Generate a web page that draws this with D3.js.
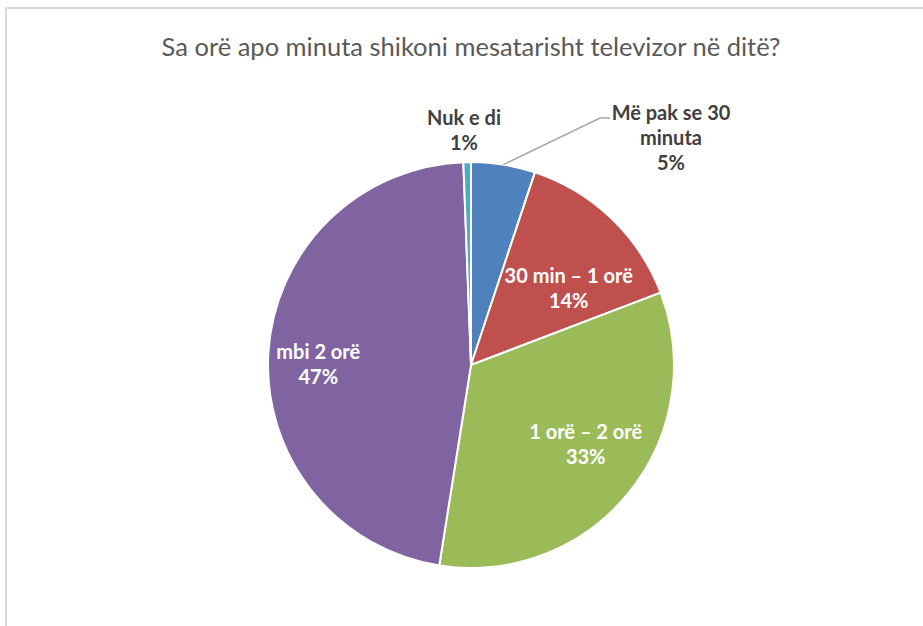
<!DOCTYPE html>
<html lang="sq">
    <head>
        <meta charset="utf-8">
        <title>Sa orë apo minuta shikoni mesatarisht televizor në ditë?</title>
        <script type="text/javascript" src="https://d3js.org/d3.v7.min.js"></script>
        <style type="text/css">
            body {
                margin: 0;
                background: #ffffff;
            }
            .title {
                font-family: Lato, "Open Sans", sans-serif;
                font-size: 25.5px;
                fill: #595959;
            }
            .label {
                font-family: Lato, "Open Sans", sans-serif;
                font-size: 20px;
                font-weight: bold;
            }
        </style>
    </head>

    <body>
        <script type="text/javascript">

            // chart size
            const svgW = 923;
            const svgH = 626;

            // data (percent of answers)
            const categories = ["Më pak se 30 minuta", "30 min – 1 orë", "1 orë – 2 orë", "mbi 2 orë", "Nuk e di"];
            const values = [5.1, 14.1, 33.3, 46.9, 0.6];
            const colors = ["#4F81BD", "#C0504D", "#9BBB59", "#8064A2", "#4BACC6"];
            // label lines, the percent is added as the last line
            const labelLines = [["Më pak se 30", "minuta"], ["30 min – 1 orë"], ["1 orë – 2 orë"], ["mbi 2 orë"], ["Nuk e di"]];

            const titleText = "Sa orë apo minuta shikoni mesatarisht televizor në ditë?";

            const dataset = categories.map((c, i) => ({ name: c, value: values[i], color: colors[i], lines: labelLines[i] }));

            // pie geometry
            const cx = 471;
            const cy = 365;
            const radius = 203;
            const lineH = 25;

            // where each label sits (outside labels are placed from the centre)
            const labelLayout = {
                "Më pak se 30 minuta": { outside: true, x: 200, y: -227 },
                "30 min – 1 orë": { outside: false, r: 124, dx: 12, dy: 13 },
                "1 orë – 2 orë": { outside: false, r: 140, dx: 6, dy: -9 },
                "mbi 2 orë": { outside: false, r: 153, dx: 0, dy: 9 },
                "Nuk e di": { outside: true, x: -7, y: -235 }
            };

            const svg = d3.select("body")
                .append("svg")
                .attr("width", svgW)
                .attr("height", svgH);

            // chart frame (runs off the right and bottom edges)
            svg.append("rect")
                .attr("x", 6)
                .attr("y", 8)
                .attr("width", svgW + 10)
                .attr("height", svgH + 10)
                .attr("fill", "none")
                .attr("stroke", "#D9D9D9")
                .attr("stroke-width", 2);

            // title
            svg.append("text")
                .attr("class", "title")
                .attr("x", cx)
                .attr("y", 56)
                .attr("text-anchor", "middle")
                .text(titleText);

            const pie = d3.pie()
                .value(d => d.value)
                .sort(null);

            const arc = d3.arc()
                .innerRadius(0)
                .outerRadius(radius);

            const total = d3.sum(values);
            const arcs = pie(dataset);

            const g = svg.append("g")
                .attr("transform", "translate(" + cx + "," + cy + ")");

            // slices
            g.selectAll("path")
                .data(arcs)
                .enter()
                .append("path")
                .attr("d", arc)
                .attr("fill", d => d.data.color)
                .attr("stroke", "#ffffff")
                .attr("stroke-width", 2)
                .attr("stroke-linejoin", "round");

            // leader line for the small blue slice
            const blue = arcs[0];
            const bMid = (blue.startAngle + blue.endAngle) / 2;
            const bEdge = [Math.sin(bMid) * radius, -Math.cos(bMid) * radius];
            const bLay = labelLayout[categories[0]];
            g.append("polyline")
                .attr("points", [bEdge, [bLay.x - 71, bLay.y - 20], [bLay.x - 61, bLay.y - 20]].map(p => p.join(",")).join(" "))
                .attr("fill", "none")
                .attr("stroke", "#A6A6A6")
                .attr("stroke-width", 1.5);

            // data labels
            arcs.forEach(function(d) {
                const lay = labelLayout[d.data.name];
                const lines = d.data.lines.concat([Math.round(d.data.value / total * 100) + "%"]);
                let x, y;
                if (lay.outside) {
                    x = lay.x;
                    y = lay.y;
                } else {
                    const mid = (d.startAngle + d.endAngle) / 2;
                    x = Math.sin(mid) * lay.r + lay.dx;
                    y = -Math.cos(mid) * lay.r + lay.dy;
                }
                const top = y - (lines.length - 1) * lineH / 2;
                const t = g.append("text")
                    .attr("class", "label")
                    .attr("text-anchor", "middle")
                    .attr("fill", lay.outside ? "#404040" : "#ffffff");
                lines.forEach(function(s, i) {
                    t.append("tspan")
                        .attr("x", x)
                        .attr("y", top + i * lineH + 7)
                        .text(s);
                });
            });

        </script>
    </body>
</html>
